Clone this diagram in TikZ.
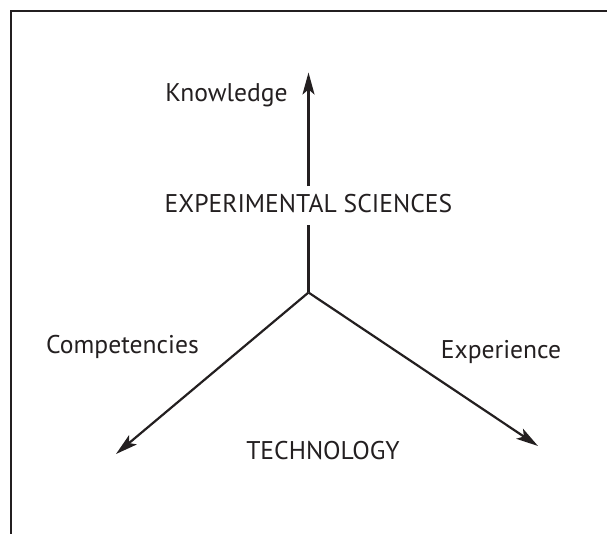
\documentclass[tikz,border=0pt]{standalone}
\usepackage{fontspec}
\setmainfont{PT Sans}
\usetikzlibrary{arrows.meta}
\definecolor{ink}{HTML}{231F20}
\tikzset{
  conn/.style={line width=2.2pt, draw=ink},
  arr/.style={conn, -{Stealth[length=22pt, width=12pt, inset=5pt]}},
  lab/.style={font=\fontsize{25.6pt}{30pt}\selectfont, text=ink, inner sep=0pt, anchor=base},
  frame/.style={line width=2.4pt, draw=ink}
}
\begin{document}
\begin{tikzpicture}[x=1pt, y=-1pt]
\useasboundingbox (0,0) rectangle (607,534);
\draw[frame] (10.8,534) -- (10.8,11.2) -- (607,11.2);
\coordinate (v) at (308.5,292.5);
\coordinate (kt) at (308.5,72.5);
\coordinate (ct) at (116,454);
\coordinate (et) at (538,446);
\node[lab] (know) at (226.5,101.5) {Knowledge};
\node[lab, text height=18pt, text depth=3.5pt, inner ysep=8.5pt, anchor=base] (es) at (308.5,212.9) {EXPERIMENTAL SCIENCES};
\node[lab] (comp) at (122.5,353.2) {Competencies};
\node[lab] (exp) at (501,358.3) {Experience};
\node[lab] (tech) at (323,459.1) {TECHNOLOGY};
\draw[conn] (v) -- (es.south);
\draw[arr] (es.north) -- (kt);
\draw[arr] (v) -- (ct);
\draw[arr] (v) -- (et);
\end{tikzpicture}
\end{document}
